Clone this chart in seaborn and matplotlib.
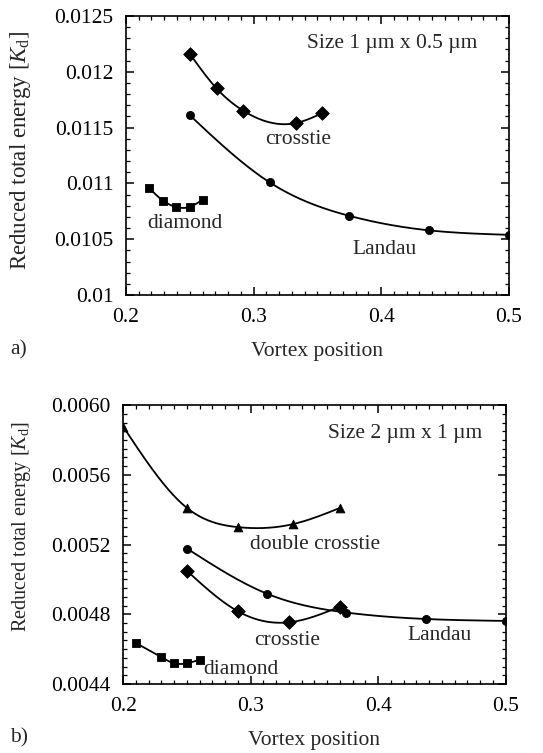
import numpy as np
import pandas as pd
import matplotlib
matplotlib.use('Agg')
import matplotlib.pyplot as plt
from matplotlib.ticker import MultipleLocator, FixedFormatter, FixedLocator
import seaborn as sns

# panel a) 1 um x 0.5 um
a_landau_x = [0.25, 0.3125, 0.375, 0.4375, 0.5]
a_landau_y = [0.01161, 0.01101, 0.01071, 0.01058, 0.01054]
a_cross_x = [0.25, 0.271, 0.292, 0.333, 0.354]
a_cross_y = [0.01216, 0.01185, 0.01165, 0.01154, 0.01163]
a_diam_x = [0.218, 0.229, 0.239, 0.25, 0.26]
a_diam_y = [0.01096, 0.010846, 0.01079, 0.01079, 0.010855]

# panel b) 2 um x 1 um
b_double_x = [0.2, 0.25, 0.29, 0.333, 0.37]
b_double_y = [0.005876, 0.00541, 0.0053, 0.005317, 0.00541]
b_landau_x = [0.25, 0.3125, 0.375, 0.4375, 0.5]
b_landau_y = [0.005177, 0.004919, 0.00481, 0.004773, 0.004762]
b_cross_x = [0.25, 0.29, 0.33, 0.37]
b_cross_y = [0.005049, 0.004817, 0.004754, 0.004844]
b_diam_x = [0.21, 0.23, 0.24, 0.25, 0.26]
b_diam_y = [0.004635, 0.004553, 0.004519, 0.004519, 0.00454]

a_yticks = [0.01, 0.0105, 0.011, 0.0115, 0.012, 0.0125]
a_ylabels = ['0.01', '0.0105', '0.011', '0.0115', '0.012', '0.0125']
b_yticks = [0.0044, 0.0048, 0.0052, 0.0056, 0.0060]
b_ylabels = ['0.0044', '0.0048', '0.0052', '0.0056', '0.0060']
xticks = [0.2, 0.3, 0.4, 0.5]


def smooth(x, y, n=60):
    # natural cubic spline, only for drawing the connecting curve
    x = np.asarray(x, float)
    y = np.asarray(y, float)
    k = len(x)
    h = np.diff(x)
    A = np.zeros((k, k))
    r = np.zeros(k)
    A[0, 0] = A[-1, -1] = 1
    for i in range(1, k - 1):
        A[i, i - 1] = h[i - 1]
        A[i, i] = 2 * (h[i - 1] + h[i])
        A[i, i + 1] = h[i]
        r[i] = 3 * ((y[i + 1] - y[i]) / h[i] - (y[i] - y[i - 1]) / h[i - 1])
    c = np.linalg.solve(A, r)
    xs, ys = [], []
    for i in range(k - 1):
        b = (y[i + 1] - y[i]) / h[i] - h[i] * (2 * c[i] + c[i + 1]) / 3
        d = (c[i + 1] - c[i]) / (3 * h[i])
        t = np.linspace(0, h[i], n)
        xs.append(x[i] + t)
        ys.append(y[i] + b * t + c[i] * t ** 2 + d * t ** 3)
    return np.concatenate(xs), np.concatenate(ys)


sns.set_theme(style='ticks')
plt.rcParams['font.family'] = ['Liberation Serif', 'DejaVu Serif']
plt.rcParams['mathtext.fontset'] = 'custom'
plt.rcParams['mathtext.rm'] = 'Liberation Serif'
plt.rcParams['mathtext.it'] = 'Liberation Serif:italic'

fig = plt.figure(figsize=(5.43, 7.53), dpi=100)
ax_a = fig.add_axes([0.232, 0.608, 0.705, 0.371])
ax_b = fig.add_axes([0.227, 0.0916, 0.704, 0.3704])

FS = 15.5


def draw(ax, x, y, marker, ms):
    sx, sy = smooth(x, y)
    sns.lineplot(x=sx, y=sy, ax=ax, color='black', lw=1.3, sort=False, estimator=None)
    sns.scatterplot(x=x, y=y, ax=ax, color='black', marker=marker, s=ms, edgecolor='black', linewidth=0.6, zorder=3)


def style(ax, yticks, ylabels, ylim, ymin, yfs, ylab_pos):
    ax.set_xlim(0.2, 0.5)
    ax.set_ylim(*ylim)
    ax.xaxis.set_major_locator(FixedLocator(xticks))
    ax.xaxis.set_minor_locator(MultipleLocator(0.01))
    ax.yaxis.set_major_locator(FixedLocator(yticks))
    ax.yaxis.set_major_formatter(FixedFormatter(ylabels))
    ax.yaxis.set_minor_locator(MultipleLocator(ymin))
    ax.set_xticklabels(['0.2', '0.3', '0.4', '0.5'])
    ax.tick_params(which='both', direction='in', top=True, right=True, colors='black', labelsize=FS)
    ax.tick_params(which='major', length=6, width=1.1, pad=9)
    ax.tick_params(which='minor', length=3, width=0.9)
    for s in ax.spines.values():
        s.set_color('black')
        s.set_linewidth(1.2)
    ax.set_xlabel('Vortex position', fontsize=FS, labelpad=11)
    ax.set_ylabel(r'Reduced total energy [$K_\mathrm{d}$]', fontsize=yfs)
    ax.yaxis.set_label_coords(*ylab_pos)


# panel a
draw(ax_a, a_cross_x, a_cross_y, 'D', 48)
draw(ax_a, a_landau_x, a_landau_y, 'o', 34)
draw(ax_a, a_diam_x, a_diam_y, 's', 32)
style(ax_a, a_yticks, a_ylabels, (0.01, 0.0125), 0.0001, 16.5, (-0.243, 0.52))
ax_a.text(0.342, 0.012255, 'Size 1 µm x 0.5 µm', fontsize=FS, va='center', ha='left')
ax_a.text(0.335, 0.011395, 'crosstie', fontsize=FS, ha='center', va='center')
ax_a.text(0.2464, 0.010645, 'diamond', fontsize=FS, ha='center', va='center')
ax_a.text(0.403, 0.010407, 'Landau', fontsize=FS, ha='center', va='center')

# panel b
draw(ax_b, b_double_x, b_double_y, '^', 40)
draw(ax_b, b_landau_x, b_landau_y, 'o', 34)
draw(ax_b, b_cross_x, b_cross_y, 'D', 48)
draw(ax_b, b_diam_x, b_diam_y, 's', 32)
style(ax_b, b_yticks, b_ylabels, (0.0044, 0.0060), 0.00005, 14.5, (-0.236, 0.563))
ax_b.text(0.3609, 0.005837, 'Size 2 µm x 1 µm', fontsize=FS, va='center', ha='left')
ax_b.text(0.3504, 0.0052, 'double crosstie', fontsize=FS, ha='center', va='center')
ax_b.text(0.3287, 0.00465, 'crosstie', fontsize=FS, ha='center', va='center')
ax_b.text(0.4485, 0.00468, 'Landau', fontsize=FS, ha='center', va='center')
ax_b.text(0.2628, 0.004482, 'diamond', fontsize=FS, ha='left', va='center')

fig.text(10 / 543, 1 - 350 / 753, 'a)', fontsize=FS, va='center', ha='left')
fig.text(10 / 543, 1 - 738 / 753, 'b)', fontsize=FS, va='center', ha='left')

fig.savefig('out.png', dpi=100, facecolor='white')
